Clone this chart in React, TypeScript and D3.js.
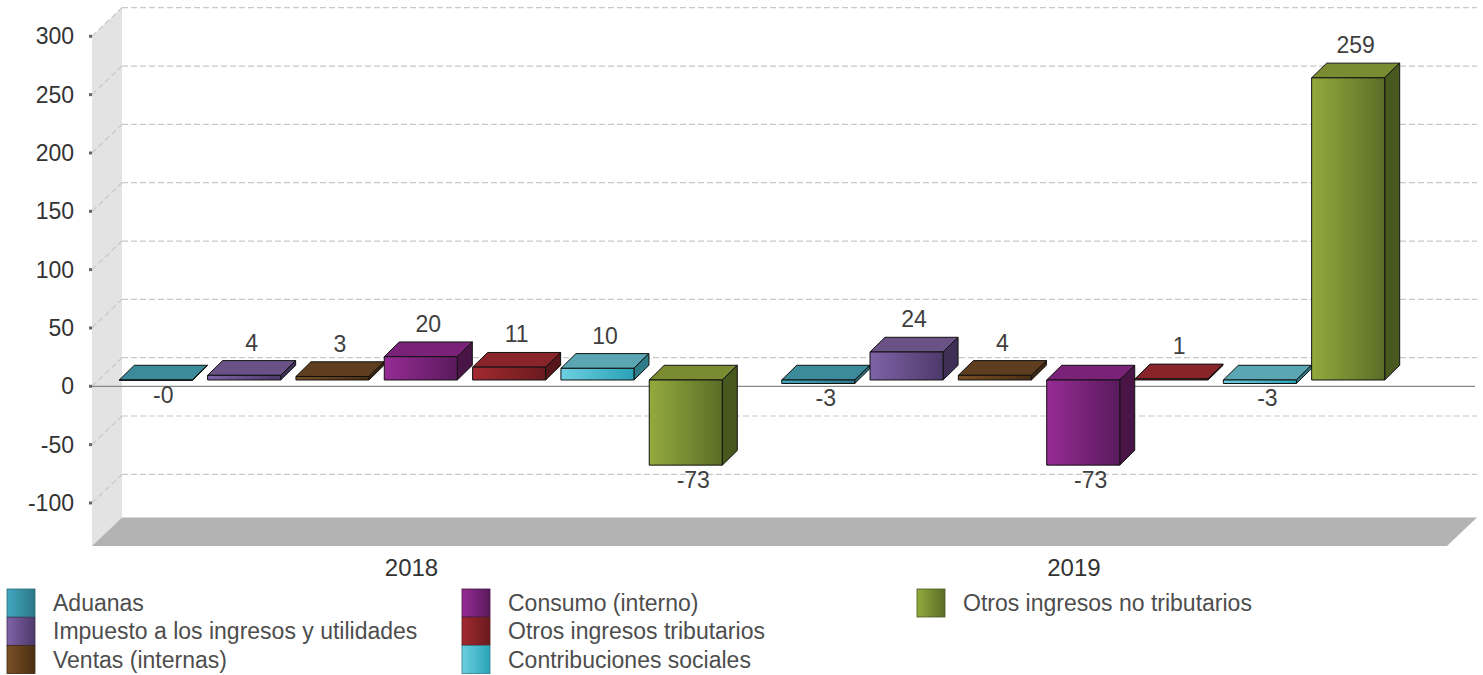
import React from "react";
import * as d3 from "d3";

const categories = ["2018", "2019"];
const seriesNames = [
  "Aduanas",
  "Impuesto a los ingresos y utilidades",
  "Ventas (internas)",
  "Consumo (interno)",
  "Otros ingresos tributarios",
  "Contribuciones sociales",
  "Otros ingresos no tributarios",
];
const values2018 = [-0.3, 4, 3, 20, 11, 10, -73];
const values2019 = [-3, 24, 4, -73, 1, -3, 259];
const yTicks = [-100, -50, 0, 50, 100, 150, 200, 250, 300];

// colours: [front light, front dark, top, side]
const palette: string[][] = [
  ["#42a9c0", "#2b7686", "#3b8b9b", "#2a6a77"],
  ["#7f63a7", "#4d396a", "#6a5287", "#3f2f56"],
  ["#7a4f24", "#4a2f14", "#5e3e1e", "#3d2710"],
  ["#962b95", "#5a1a5c", "#7a2278", "#481546"],
  ["#a12a30", "#6a1a1e", "#88242a", "#57161a"],
  ["#6dd0e1", "#2aa2b7", "#5aa7b3", "#2f7c89"],
  ["#94aa3d", "#5a6d27", "#7a8b32", "#485920"],
];

const W = 1483;
const H = 675;
const FONT = "'Liberation Sans', Arial, sans-serif";

export default function App() {
  const data = [values2018, values2019];
  // front-plane y scale
  const y = d3.scaleLinear().domain([-136.9, 300]).range([546, 36.3]);
  const DX = 30, DY = -28.6; // full depth of the plot box
  const bfy = -6.3; // bar front offset
  const bdx = 15, bdy = -14.7; // bar depth
  const x0 = d3.scaleBand<string>().domain(categories).range([119.3, 1384.7]).paddingInner(0.0897).paddingOuter(0);
  const x1 = d3.scaleBand<string>().domain(seriesNames).range([0, x0.bandwidth()]).paddingInner(0.173).paddingOuter(0);
  const bw = x1.bandwidth();

  const yMin = y.domain()[0];
  const yMax = y.domain()[1];
  const xL = 92;
  const xR = 1447;

  const fmt = (v: number) => {
    const r = Math.round(v);
    return v < 0 ? "-" + Math.abs(r) : String(r);
  };

  const bars: React.ReactNode[] = [];
  const labels: React.ReactNode[] = [];
  categories.forEach((c, ci) => {
    seriesNames.forEach((s, si) => {
      const v = data[ci][si];
      const xf = (x0(c) as number) + (x1(s) as number);
      const y0 = y(0) + bfy;
      const yv = y(v) + bfy;
      const top = Math.min(y0, yv);
      const bot = Math.max(y0, yv);
      const p = palette[si];
      const gid = `g${si}`;
      bars.push(
        <g key={`${c}-${s}`} stroke="#111" strokeWidth={1} strokeLinejoin="round">
          <polygon
            points={`${xf},${top} ${xf + bdx},${top + bdy} ${xf + bw + bdx},${top + bdy} ${xf + bw},${top}`}
            fill={p[2]}
          />
          <polygon
            points={`${xf + bw},${top} ${xf + bw + bdx},${top + bdy} ${xf + bw + bdx},${bot + bdy} ${xf + bw},${bot}`}
            fill={p[3]}
          />
          <rect x={xf} y={top} width={bw} height={Math.max(bot - top, 0.01)} fill={`url(#${gid})`} />
        </g>
      );
      const lx = xf + bw / 2 + 7.5;
      const ly = v >= 0 ? top + bdy - 10 : bot + 22.5;
      labels.push(
        <text key={`l-${c}-${s}`} x={lx} y={ly} textAnchor="middle" fontSize={23} fill="#404040" fontFamily={FONT}>
          {fmt(v)}
        </text>
      );
    });
  });

  const legendCols = [7, 462, 917];
  const rowH = 28.3;

  return (
    <svg width={W} height={H} style={{ position: "absolute", left: 0, top: 0, background: "#fff" }} fontFamily={FONT}>
      <defs>
        {palette.map((p, i) => (
          <linearGradient key={i} id={`g${i}`} x1="0" x2="1" y1="0" y2="0">
            <stop offset="0" stopColor={p[0]} />
            <stop offset="1" stopColor={p[1]} />
          </linearGradient>
        ))}
      </defs>
      {/* left wall */}
      <polygon
        points={`${xL},${y(yMax)} ${xL + DX},${y(yMax) + DY} ${xL + DX},${y(yMin) + DY} ${xL},${y(yMin)}`}
        fill="#e3e3e3"
      />
      {/* floor */}
      <polygon
        points={`${xL},${y(yMin)} ${xL + DX},${y(yMin) + DY} ${xR + DX},${y(yMin) + DY} ${xR},${y(yMin)}`}
        fill="#b3b3b3"
      />
      {/* gridlines */}
      {yTicks.map((t) => (
        <g key={`grid${t}`} stroke="#c8c8c8" strokeWidth={1.2} strokeDasharray="6,3" fill="none">
          <line x1={xL} y1={y(t)} x2={xL + DX} y2={y(t) + DY} />
          <line x1={xL + DX} y1={y(t) + DY} x2={xR + DX} y2={y(t) + DY} />
        </g>
      ))}
      {/* zero line */}
      <line x1={xL} y1={y(0)} x2={xR + DX - 2} y2={y(0)} stroke="#888" strokeWidth={1.2} />
      {/* tick marks and labels */}
      {yTicks.map((t) => (
        <g key={`tick${t}`}>
          <rect x={89} y={y(t) - 1.5} width={3} height={3} fill="#666" />
          <text x={74} y={y(t) + 8} textAnchor="end" fontSize={23} fill="#333">
            {t < 0 ? "-" + Math.abs(t) : String(t)}
          </text>
        </g>
      ))}
      {bars}
      {labels}
      {categories.map((c) => (
        <text key={`cat${c}`} x={(x0(c) as number) + x0.bandwidth() / 2 - 9.3} y={576} textAnchor="middle" fontSize={24} fill="#333">
          {c}
        </text>
      ))}
      {/* legend */}
      {seriesNames.map((s, i) => {
        const col = Math.floor(i / 3);
        const row = i % 3;
        const lx = legendCols[col];
        const ly = 589 + row * rowH;
        return (
          <g key={`leg${i}`}>
            <rect x={lx} y={ly} width={28} height={28} fill={`url(#g${i})`} stroke={palette[i][3]} strokeWidth={0.8} />
            <text x={lx + 46} y={ly + 22} fontSize={23} fill="#4d4d4d">
              {s}
            </text>
          </g>
        );
      })}
    </svg>
  );
}
